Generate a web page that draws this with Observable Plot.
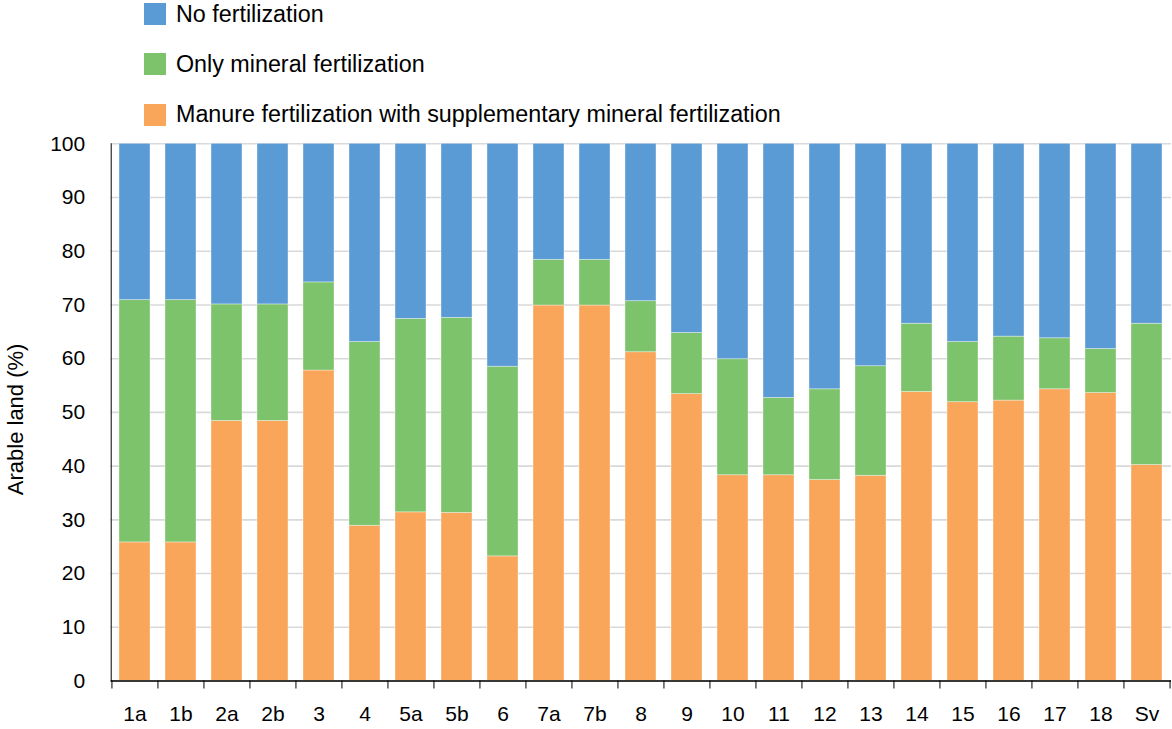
<!DOCTYPE html>
<html><head><meta charset="utf-8">
<script src="https://cdn.jsdelivr.net/npm/d3@7"></script>
<script src="https://cdn.jsdelivr.net/npm/@observablehq/plot@0.6"></script>
<style>
body{margin:0;background:#fff;font-family:"Liberation Sans",Arial,sans-serif;}
#legend{position:relative;height:130px;width:1172px;}
.item{position:absolute;left:144px;height:22px;display:flex;align-items:center;font-size:23.3px;color:#000;white-space:nowrap;}
.sw{width:22px;height:22px;margin-right:10px;flex:none;}
</style></head><body>
<div id="legend"></div><div id="chart"></div>
<script>
const categories = ["1a","1b","2a","2b","3","4","5a","5b","6","7a","7b","8","9","10","11","12","13","14","15","16","17","18","Sv"];
const manure  = [25.8,25.8,48.4,48.4,57.8,28.9,31.4,31.3,23.2,69.9,69.9,61.2,53.4,38.3,38.3,37.4,38.2,53.8,51.9,52.2,54.3,53.6,40.2];
const mineral = [45.1,45.1,21.7,21.7,16.4,34.2,36.0,36.3,35.3,8.5,8.5,9.5,11.4,21.6,14.4,16.9,20.4,12.7,11.2,11.9,9.5,8.2,26.3];
const none    = [29.1,29.1,29.9,29.9,25.8,36.9,32.6,32.4,41.5,21.6,21.6,29.3,35.2,40.1,47.3,45.7,41.4,33.5,36.9,35.9,36.2,38.2,33.5];
const seriesNames = ["No fertilization","Only mineral fertilization","Manure fertilization with supplementary mineral fertilization"];
const colors = ["#5B9BD5","#7CC36B","#F9A65A"];
const yTicks = [0,10,20,30,40,50,60,70,80,90,100];
const yLabel = "Arable land (%)";

// legend
const legend = document.getElementById("legend");
seriesNames.forEach((name, i) => {
  const it = document.createElement("div");
  it.className = "item";
  it.style.top = (3 + i * 50.3) + "px";
  it.innerHTML = `<span class="sw" style="background:${colors[i]}"></span><span>${name}</span>`;
  legend.appendChild(it);
});

// table
const rows = [];
categories.forEach((c, i) => {
  rows.push({cat: c, series: seriesNames[2], value: manure[i]});
  rows.push({cat: c, series: seriesNames[1], value: mineral[i]});
  rows.push({cat: c, series: seriesNames[0], value: none[i]});
});

const W = 1172, H = 599, ML = 110.7, MR = 1, MT = 13.3, MB = 48.5;
const step = (W - ML - MR) / categories.length;

const chart = Plot.plot({
  width: W, height: H,
  marginLeft: ML, marginRight: MR, marginTop: MT, marginBottom: MB,
  style: {fontFamily: "'Liberation Sans', Arial, sans-serif", fontSize: "21px", color: "#000", background: "#fff"},
  x: {domain: categories, paddingInner: 0.33, paddingOuter: 0.165, label: null},
  y: {domain: [0, 100], label: null},
  color: {domain: seriesNames, range: colors},
  marks: [
    Plot.ruleY(yTicks, {stroke: "#d9d9d9", strokeWidth: 1.6}),
    Plot.barY(rows, {x: "cat", y: "value", fill: "series", order: [seriesNames[2], seriesNames[1], seriesNames[0]], stroke: "#ffffff", strokeOpacity: 0.45, strokeWidth: 0.8}),
    Plot.frame({anchor: "left", stroke: "#000", strokeWidth: 1}),
    Plot.ruleY([0], {stroke: "#000", strokeWidth: 1.5}),
    Plot.ruleX(categories, {x: d => d, y1: 0, y2: 0, insetBottom: -8, dx: -step / 2, stroke: "#000", strokeWidth: 1}),
    Plot.ruleX([categories[categories.length - 1]], {x: d => d, y1: 0, y2: 0, insetBottom: -8, dx: step / 2, stroke: "#000", strokeWidth: 1}),
    Plot.axisY({ticks: yTicks, tickSize: 0, tickPadding: 26, label: null, fontSize: 21}),
    Plot.axisX({tickSize: 0, tickPadding: 25, label: null, fontSize: 21}),
    Plot.text([yLabel], {frameAnchor: "left", textAnchor: "middle", rotate: -90, dx: -95, dy: 7, fontSize: 22})
  ]
});
document.getElementById("chart").appendChild(chart);
</script>
</body></html>
